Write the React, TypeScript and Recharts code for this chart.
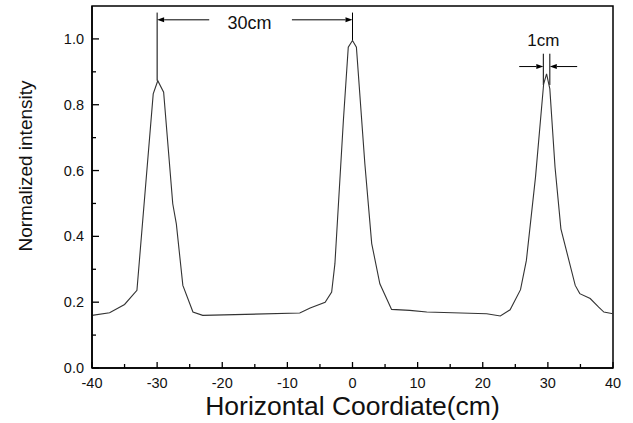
import { LineChart, Line, XAxis, YAxis, ReferenceArea, ReferenceLine, ReferenceDot } from 'recharts';

// ---------------------------------------------------------------------------
// Data
// ---------------------------------------------------------------------------

const X_CM = [
  -40, -37.3, -35, -33.1, -30.6, -29.9, -29.0, -27.6, -27.05, -26.05, -24.5, -23,
  -8.1, -6.5, -4.2, -3.2, -2.7, -1.4, -0.65, 0, 0.6, 1.9, 2.95, 4.2, 6.0, 8.8,
  11.4, 20.6, 22.7, 24.2, 25.8, 26.7, 28.1, 29.35, 29.8, 30.3, 31.1, 32.0, 34.2,
  34.9, 36.5, 37.8, 38.6, 40,
];

const INTENSITY = [
  0.16, 0.168, 0.193, 0.236, 0.833, 0.873, 0.838, 0.499, 0.438, 0.251, 0.17, 0.16,
  0.167, 0.182, 0.2, 0.231, 0.317, 0.752, 0.975, 0.995, 0.975, 0.62, 0.378, 0.256,
  0.178, 0.175, 0.17, 0.165, 0.158, 0.177, 0.238, 0.327, 0.58, 0.863, 0.894, 0.848,
  0.61, 0.423, 0.251, 0.226, 0.211, 0.185, 0.17, 0.165,
];

const X_TICKS = [-40, -35, -30, -25, -20, -15, -10, -5, 0, 5, 10, 15, 20, 25, 30, 35, 40];
const Y_TICKS = [0, 0.1, 0.2, 0.3, 0.4, 0.5, 0.6, 0.7, 0.8, 0.9, 1.0];

const data = X_CM.map((x, i) => ({ x, v: INTENSITY[i] }));

const FONT = '"Liberation Sans", Arial, sans-serif';

// ---------------------------------------------------------------------------
// Ticks drawn inward, labels outside
// ---------------------------------------------------------------------------

function YTick({ x, y, payload }: any) {
  const major = Math.round(payload.value * 10) % 2 === 0;
  return (
    <g>
      <line x1={x} y1={y} x2={x + (major ? 7 : 4)} y2={y} stroke="#000" strokeWidth={1.3} />
      {major && (
        <text x={x - 8} y={y} textAnchor="end" dominantBaseline="central" fontSize={14.5} fill="#111" fontFamily={FONT}>
          {payload.value.toFixed(1)}
        </text>
      )}
    </g>
  );
}

function XTick({ x, y, payload }: any) {
  const major = payload.value % 10 === 0;
  return (
    <g>
      <line x1={x} y1={y} x2={x} y2={y - (major ? 6 : 4)} stroke="#000" strokeWidth={1.3} />
      {major && (
        <text x={x} y={y + 15} textAnchor="middle" dominantBaseline="central" fontSize={14.5} fill="#111" fontFamily={FONT}>
          {payload.value}
        </text>
      )}
    </g>
  );
}

function ArrowLine(props: any) {
  const { x1, y1, x2, y2 } = props;
  const dx = x2 - x1;
  const dy = y2 - y1;
  const len = Math.hypot(dx, dy) || 1;
  const ux = dx / len;
  const uy = dy / len;
  const hl = 7;
  const hw = 2.5;
  const bx = x2 - ux * hl;
  const by = y2 - uy * hl;
  return (
    <g>
      <line x1={x1} y1={y1} x2={bx} y2={by} stroke="#000" strokeWidth={1} />
      <polygon
        points={`${x2},${y2} ${bx - uy * hw},${by + ux * hw} ${bx + uy * hw},${by - ux * hw}`}
        fill="#000"
      />
    </g>
  );
}

export default function App() {
  return (
    <div style={{ position: 'absolute', left: 0, top: 0, background: '#fff' }}>
      <LineChart width={633} height={423} data={data} margin={{ top: 6, right: 20, bottom: 25, left: 0 }}>
        <XAxis
          dataKey="x"
          type="number"
          domain={[-40, 40]}
          ticks={X_TICKS}
          allowDataOverflow
          height={30}
          tickSize={0}
          tickMargin={0}
          tickLine={false}
          axisLine={{ stroke: '#000', strokeWidth: 1.5 }}
          tick={<XTick />}
          label={{
            content: ({ viewBox }: any) => (
              <text
                x={viewBox.x + viewBox.width / 2}
                y={406}
                textAnchor="middle"
                dominantBaseline="central"
                fontSize={26.5}
                fill="#111"
                fontFamily={FONT}
              >
                Horizontal Coordiate(cm)
              </text>
            ),
          }}
        />
        <YAxis
          type="number"
          domain={[0, 1.1]}
          ticks={Y_TICKS}
          allowDataOverflow
          width={92}
          tickSize={0}
          tickMargin={0}
          tickLine={false}
          axisLine={{ stroke: '#000', strokeWidth: 1.5 }}
          tick={<YTick />}
          label={{
            content: () => (
              <text
                x={25}
                y={166}
                transform="rotate(-90 25 166)"
                textAnchor="middle"
                dominantBaseline="central"
                fontSize={19}
                fill="#111"
                fontFamily={FONT}
              >
                Normalized intensity
              </text>
            ),
          }}
        />
        <ReferenceArea x1={-40} x2={40} y1={0} y2={1.1} fill="none" stroke="#000" strokeWidth={1.5} />

        {/* 30cm spacing marker */}
        <ReferenceLine segment={[{ x: -30, y: 0.873 }, { x: -30, y: 1.08 }]} stroke="#000" strokeWidth={1} />
        <ReferenceLine segment={[{ x: 0, y: 0.995 }, { x: 0, y: 1.08 }]} stroke="#000" strokeWidth={1} />
        <ReferenceLine segment={[{ x: -22, y: 1.058 }, { x: -30, y: 1.058 }]} shape={ArrowLine} />
        <ReferenceLine segment={[{ x: -9.3, y: 1.058 }, { x: 0, y: 1.058 }]} shape={ArrowLine} />
        <ReferenceDot
          x={-15.8}
          y={1.05}
          r={0}
          fill="none"
          stroke="none"
          label={{ value: '30cm', position: 'center', fontSize: 18, fill: '#111', fontFamily: FONT }}
        />

        {/* 1cm width marker */}
        <ReferenceLine segment={[{ x: 29.3, y: 0.86 }, { x: 29.3, y: 0.955 }]} stroke="#000" strokeWidth={1} />
        <ReferenceLine segment={[{ x: 30.3, y: 0.86 }, { x: 30.3, y: 0.955 }]} stroke="#000" strokeWidth={1} />
        <ReferenceLine segment={[{ x: 25.6, y: 0.916 }, { x: 29.3, y: 0.916 }]} shape={ArrowLine} />
        <ReferenceLine segment={[{ x: 34.5, y: 0.916 }, { x: 30.3, y: 0.916 }]} shape={ArrowLine} />
        <ReferenceDot
          x={29.3}
          y={0.998}
          r={0}
          fill="none"
          stroke="none"
          label={{ value: '1cm', position: 'center', fontSize: 17, fill: '#111', fontFamily: FONT }}
        />

        <Line
          type="linear"
          dataKey="v"
          stroke="#333"
          strokeWidth={1.1}
          dot={false}
          isAnimationActive={false}
        />
      </LineChart>
    </div>
  );
}
